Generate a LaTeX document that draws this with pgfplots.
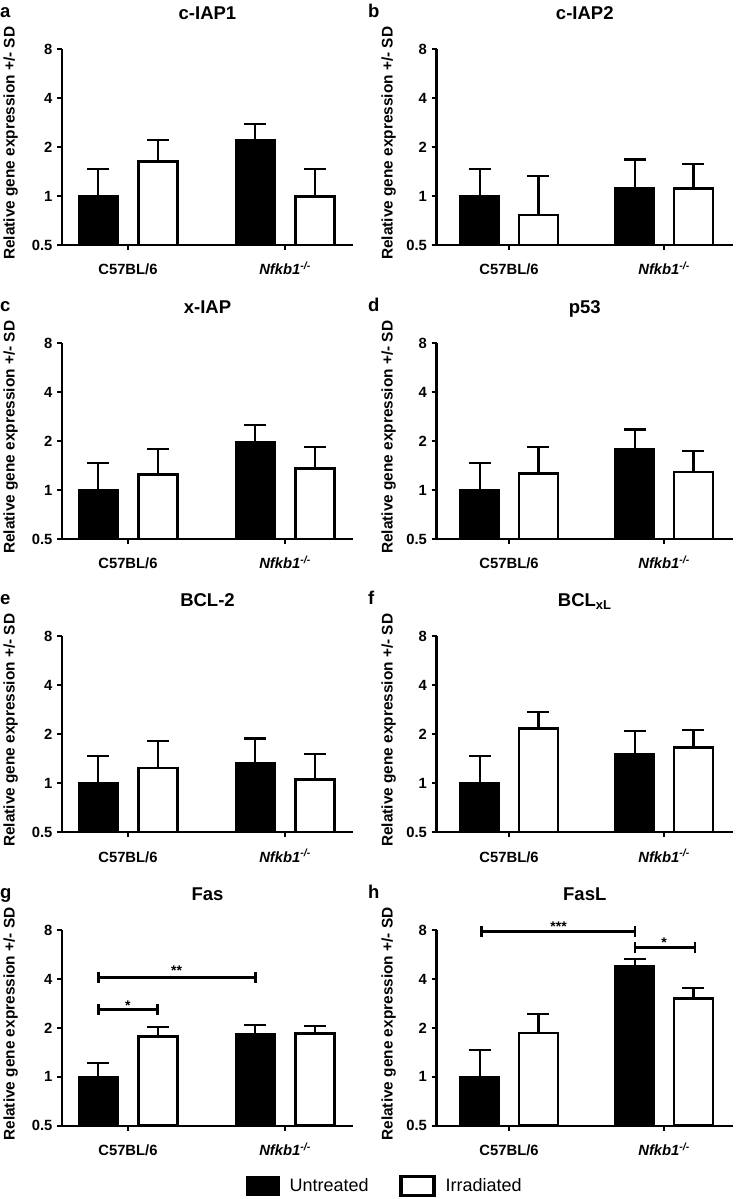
\documentclass[border=0pt]{standalone}
\usepackage{fontspec}
\setmainfont{Liberation Sans}
\usepackage{pgfplots}
\pgfplotsset{compat=1.18}

\pgfplotsset{
  every axis/.append style={
    scale only axis, height=195.7pt,
    ymode=log, log basis y=2, ymin=0.5, ymax=8,
    ytick={0.5,1,2,4,8}, yticklabels={0.5,1,2,4,8},
    xtick={0,1},
    xticklabels={C57BL/6,{\textit{Nfkb1}\textsuperscript{\textit{-/-}}}},
    axis x line*=bottom, axis y line*=left,
    axis line style={line width=2.2pt},
    tick style={line width=1.9pt, black},
    tick align=outside, major tick length=5pt,
    tick label style={font=\bfseries\fontsize{14.8}{15}\selectfont},
    yticklabel style={xshift=-1pt},
    xticklabel style={anchor=base, yshift=-25pt},
    ylabel={Relative gene expression +/- SD},
    ylabel style={font=\bfseries\fontsize{15.4}{16}\selectfont, anchor=base},
    title style={font=\bfseries\fontsize{18.5}{19}\selectfont, at={(0.5,1)}, anchor=base, yshift=24pt},
    clip=false,
  },
}
\pgfplotsset{
  ubar/.style={ybar, bar width=39pt, fill=black, draw=black, line width=2pt,
    error bars/y dir=plus, error bars/y explicit,
    error bars/error bar style={line width=2.1pt, black},
    error bars/error mark options={rotate=90, line width=2.1pt, mark size=11pt, black}},
  ibar/.style={ybar, bar width=39pt, fill=white, draw=black, line width=2.7pt,
    error bars/y dir=plus, error bars/y explicit,
    error bars/error bar style={line width=2.1pt, black},
    error bars/error mark options={rotate=90, line width=2.1pt, mark size=11pt, black}},
  sig/.style={black, line width=2.8pt, mark=|, mark size=5.5pt, mark options={line width=2.8pt}},
}
\tikzset{sigstar/.style={anchor=base, font=\bfseries\fontsize{14}{14}\selectfont, inner sep=0pt}}

\begin{document}
\begin{tikzpicture}
\useasboundingbox (0,0) rectangle (736pt,-1199pt);

% a
\begin{axis}[at={(62pt,-245pt)}, anchor=south west, log origin y=infty,
  xmin=-0.42, xmax=1.433, width=291pt, ylabel style={at={(-0.163,0.52)}}, title={c-IAP1}]
\addplot[ubar] coordinates {(-0.19,1.00) +- (0,0.46) (0.81,2.21) +- (0,0.55)};
\addplot[ibar] coordinates {(0.19,1.64) +- (0,0.57) (1.19,0.99) +- (0,0.47)};
\end{axis}
% b
\begin{axis}[at={(436.5pt,-245pt)}, anchor=south west, log origin y=infty,
  xmin=-0.468, xmax=1.445, width=296.5pt, ylabel style={at={(-0.148,0.52)}}, title={c-IAP2}]
\addplot[ubar] coordinates {(-0.19,1.00) +- (0,0.46) (0.81,1.125) +- (0,0.555)};
\addplot[ibar] coordinates {(0.19,0.764) +- (0,0.566) (1.19,1.11) +- (0,0.46)};
\end{axis}
% c
\begin{axis}[at={(62pt,-539pt)}, anchor=south west, log origin y=infty,
  xmin=-0.42, xmax=1.433, width=291pt, ylabel style={at={(-0.163,0.52)}}, title={x-IAP}]
\addplot[ubar] coordinates {(-0.19,1.00) +- (0,0.46) (0.81,1.98) +- (0,0.55)};
\addplot[ibar] coordinates {(0.19,1.25) +- (0,0.54) (1.19,1.36) +- (0,0.48)};
\end{axis}
% d
\begin{axis}[at={(436.5pt,-539pt)}, anchor=south west, log origin y=infty,
  xmin=-0.468, xmax=1.445, width=296.5pt, ylabel style={at={(-0.148,0.52)}}, title={p53}]
\addplot[ubar] coordinates {(-0.19,1.00) +- (0,0.46) (0.81,1.79) +- (0,0.57)};
\addplot[ibar] coordinates {(0.19,1.27) +- (0,0.58) (1.19,1.29) +- (0,0.45)};
\end{axis}
% e
\begin{axis}[at={(62pt,-832pt)}, anchor=south west, log origin y=infty,
  xmin=-0.42, xmax=1.433, width=291pt, ylabel style={at={(-0.163,0.52)}}, title={BCL-2}]
\addplot[ubar] coordinates {(-0.19,1.00) +- (0,0.46) (0.81,1.32) +- (0,0.56)};
\addplot[ibar] coordinates {(0.19,1.24) +- (0,0.58) (1.19,1.05) +- (0,0.46)};
\end{axis}
% f
\begin{axis}[at={(436.5pt,-832pt)}, anchor=south west, log origin y=infty,
  xmin=-0.468, xmax=1.445, width=296.5pt, ylabel style={at={(-0.148,0.52)}}, title={BCL\textsubscript{xL}}]
\addplot[ubar] coordinates {(-0.19,1.00) +- (0,0.46) (0.81,1.51) +- (0,0.57)};
\addplot[ibar] coordinates {(0.19,2.16) +- (0,0.58) (1.19,1.65) +- (0,0.46)};
\end{axis}
% g
\begin{axis}[at={(62pt,-1125.7pt)}, anchor=south west, log origin y=infty,
  xmin=-0.42, xmax=1.433, width=291pt, ylabel style={at={(-0.163,0.52)}}, title={Fas},
  legend style={at={(0.63,-0.308)}, anchor=west, draw=none, fill=none,
    legend columns=2, font=\fontsize{18}{18}\selectfont, inner sep=0pt,
    /tikz/every odd column/.append style={column sep=8pt},
    /tikz/every even column/.append style={column sep=28.5pt}},
  legend cell align=left,
  legend image code/.code={\draw[#1] (0pt,-9.5pt) rectangle (33pt,9.5pt);}]
\addlegendimage{fill=black, draw=black, line width=1pt}
\addlegendentry{Untreated}
\addlegendimage{fill=white, draw=black, line width=3.5pt}
\addlegendentry{Irradiated}
\addplot[ubar] coordinates {(-0.19,1.00) +- (0,0.21) (0.81,1.84) +- (0,0.23)};
\addplot[ibar] coordinates {(0.19,1.77) +- (0,0.25) (1.19,1.84) +- (0,0.21)};
\addplot[sig] coordinates {(-0.19,2.58) (0.19,2.58)};
\addplot[sig] coordinates {(-0.19,4.1) (0.81,4.1)};
\node[sigstar, yshift=-0.5pt] at (axis cs:0,2.58) {*};
\node[sigstar, yshift=2pt] at (axis cs:0.31,4.1) {**};
\end{axis}
% h
\begin{axis}[at={(436.5pt,-1125.7pt)}, anchor=south west, log origin y=infty,
  xmin=-0.468, xmax=1.445, width=296.5pt, ylabel style={at={(-0.148,0.52)}}, title={FasL}]
\addplot[ubar] coordinates {(-0.19,1.00) +- (0,0.46) (0.81,4.81) +- (0,0.52)};
\addplot[ibar] coordinates {(0.19,1.86) +- (0,0.57) (1.19,3.04) +- (0,0.47)};
\addplot[sig] coordinates {(-0.176,7.82) (0.813,7.82)};
\addplot[sig] coordinates {(0.813,6.23) (1.2,6.23)};
\node[sigstar] at (axis cs:0.32,7.82) {***};
\node[sigstar] at (axis cs:1.0,6.23) {*};
\end{axis}

\begin{scope}[every node/.style={anchor=base west, inner sep=0pt, font=\bfseries\fontsize{18.5}{19}\selectfont}]
\node at (0pt,-18pt) {a};
\node at (368pt,-18pt) {b};
\node at (0pt,-311pt) {c};
\node at (368pt,-311pt) {d};
\node at (0pt,-604pt) {e};
\node at (368pt,-604pt) {f};
\node at (0pt,-898pt) {g};
\node at (368pt,-898pt) {h};
\end{scope}
\end{tikzpicture}
\end{document}
